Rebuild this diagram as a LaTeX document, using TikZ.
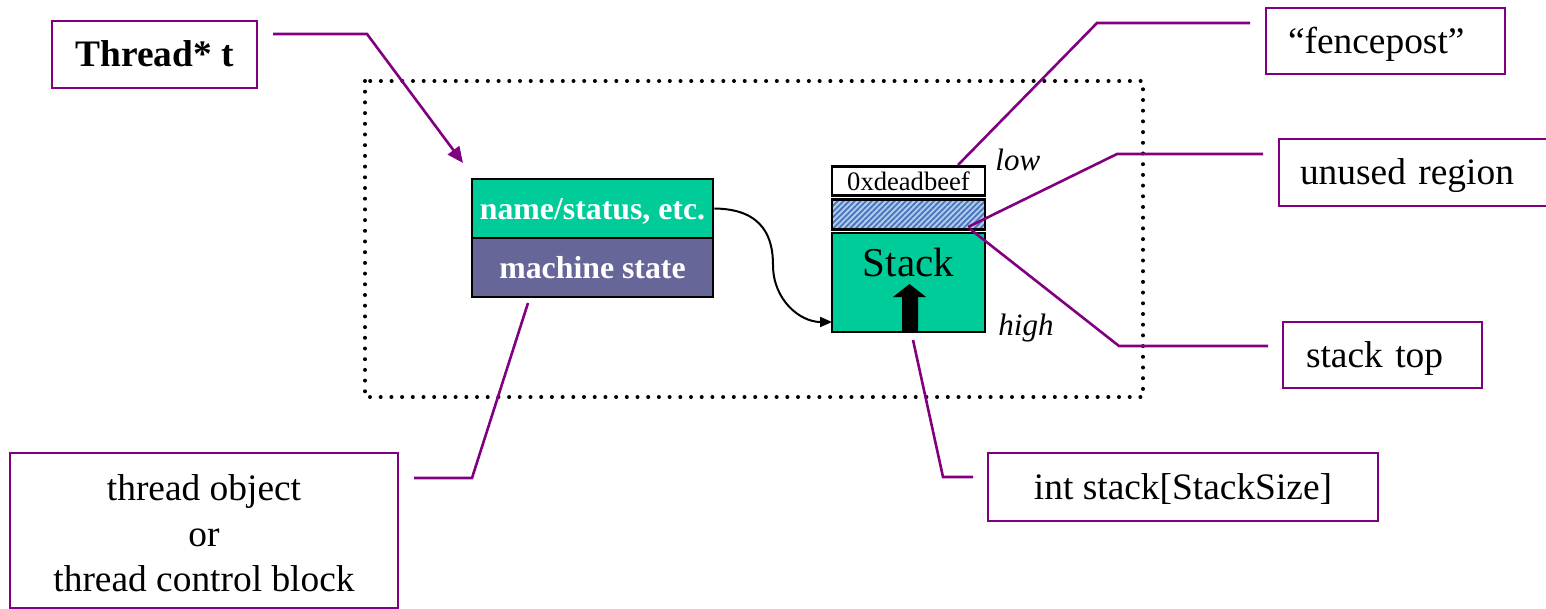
\documentclass[tikz,border=0pt]{standalone}
\usepackage{fontspec}
\setmainfont{Liberation Serif}
\usetikzlibrary{arrows.meta,patterns.meta}
\definecolor{tealgreen}{RGB}{0,204,153}
\definecolor{slateblue}{RGB}{102,102,153}
\definecolor{callout}{RGB}{128,0,128}
\definecolor{hatchlight}{RGB}{175,205,240}
\definecolor{hatchdark}{RGB}{75,115,185}
\begin{document}
\begin{tikzpicture}[x=0.5pt,y=-0.5pt,
  lbl/.style={draw=callout, line width=1.4pt, fill=white, inner sep=0pt,
    font=\fontsize{18.7}{22.75}\selectfont},
  fixbase/.style={text height=13pt, text depth=0.5pt},
  leftlbl/.style={lbl, fixbase, align=left},
  lead/.style={draw=callout, line width=1.3pt},
  cell/.style={draw=black, line width=1.4pt, inner sep=0pt,
    minimum width=120.5pt, minimum height=29.5pt, text=white,
    text height=11.5pt, text depth=0.5pt,
    font=\bfseries\fontsize{15.9}{18}\selectfont},
  mem/.style={draw=black, line width=1.3pt, inner sep=0pt, minimum width=76.5pt},
  side/.style={font=\itshape\fontsize{15.5}{18}\selectfont, inner sep=0pt}
]
\useasboundingbox (0,0) rectangle (1546,609);

% dotted outline around the thread's memory
\draw[line width=2pt, line cap=round, dash pattern=on 0pt off 5.35pt]
  (365,81) rectangle (1143,397);

% thread object
\node[cell, fill=tealgreen] (name) at (592.5,208.5) {name/status, etc.};
\node[cell, fill=slateblue] (mach) at (592.5,267.5) {machine state};

% stack memory
\node[mem, fill=white, minimum height=14.55pt, text height=9.5pt, text depth=0.25pt,
  font=\fontsize{13.3}{15}\selectfont] (beef) at (908.5,180.85) {0xdeadbeef};
\node[mem, minimum height=14.9pt, preaction={fill=hatchlight},
  pattern={Lines[angle=45,distance=2pt,line width=0.9pt]}, pattern color=hatchdark]
  (unused) at (908.5,214.5) {};
\node[mem, fill=tealgreen, minimum height=49.5pt, text height=14.5pt, text depth=20pt,
  font=\fontsize{20.5}{24}\selectfont] (stk) at (908.5,282.5) {Stack};
\fill[black] (902,332) -- (902,297) -- (893,297) -- (909.5,284) -- (926,297)
  -- (918,297) -- (918,332) -- cycle;

\node[side, anchor=base west] (low) at (995,171) {low};
\node[side, anchor=base west] (high) at (998,335) {high};

% labels
\node[lbl, fixbase, minimum width=102.5pt, minimum height=33.5pt,
  font=\bfseries\fontsize{18.7}{22.75}\selectfont] (tptr) at (154.5,54.5) {Thread* t};
\node[leftlbl, inner xsep=11pt, text width=97.5pt, minimum height=33pt]
  (fence) at (1385.5,41) {``fencepost''};
\node[leftlbl, inner xsep=10.5pt, text width=129pt, minimum height=33.5pt]
  (unusedlbl) at (1429,172.5) {unused region};
\node[leftlbl, inner xsep=11.5pt, text width=76.5pt, minimum height=33pt]
  (toplbl) at (1382.5,355) {stack top};
\node[lbl, fixbase, minimum width=195pt, minimum height=34pt]
  (arrlbl) at (1183,487) {int stack[StackSize]};
\node[lbl, minimum width=194pt, minimum height=77.5pt] (tcb) at (204,530.5) {};
\node[font=\fontsize{18.7}{22.75}\selectfont, align=center, inner sep=0pt]
  at ([yshift=-1.5pt]tcb.center) {thread object\\or\\thread control block};

% leader lines
\coordinate (t0) at (273,34);
\coordinate (t1) at (367,34);
\coordinate (t2) at (463,163);
\draw[lead, -{Triangle[length=8pt,width=7pt]}] (t0) -- (t1) -- (t2);

\coordinate (f0) at (958,165);
\coordinate (f1) at (1097,23);
\coordinate (f2) at (1250,23);
\draw[lead] (f0) -- (f1) -- (f2);

\coordinate (u0) at (968,227);
\coordinate (u1) at (1117,154);
\coordinate (u2) at (1263,154);
\draw[lead] (u0) -- (u1) -- (u2);

\coordinate (s0) at (970,229);
\coordinate (s1) at (1119,346);
\coordinate (s2) at (1268,346);
\draw[lead] (s0) -- (s1) -- (s2);

\coordinate (a0) at (913,340);
\coordinate (a1) at (943,477);
\coordinate (a2) at (973,477);
\draw[lead] (a0) -- (a1) -- (a2);

\coordinate (o0) at (528,303);
\coordinate (o1) at (472,478);
\coordinate (o2) at (414,478);
\draw[lead] (o0) -- (o1) -- (o2);

% pointer from the thread object to its stack
\coordinate (cend) at (832,322);
\draw[line width=1pt, -{Triangle[length=6pt,width=5pt]}]
  (name.east) .. controls (765,209) and (773,240) .. (773,265)
  .. controls (773,300) and (800,322) .. (cend);
\end{tikzpicture}
\end{document}
